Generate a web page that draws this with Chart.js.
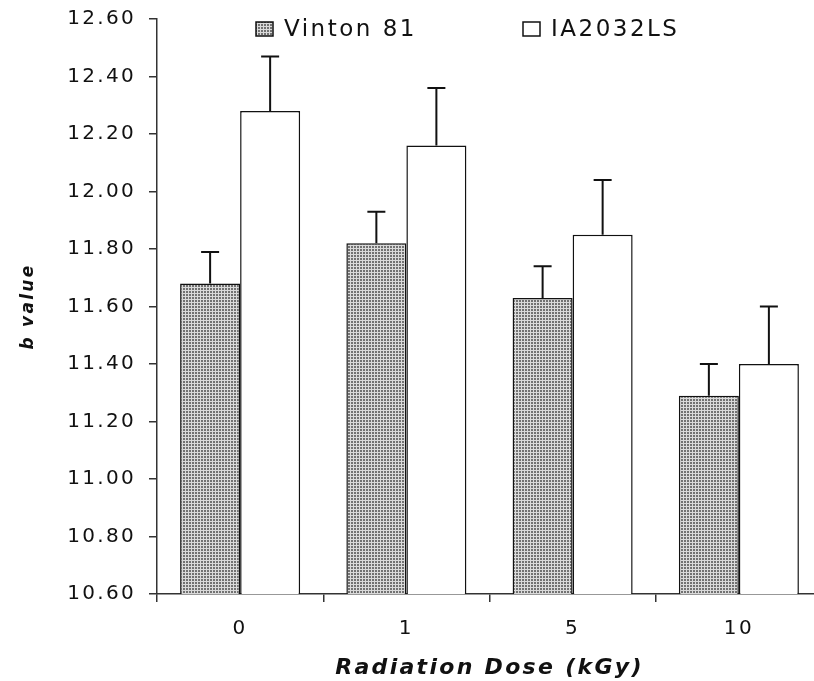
<!DOCTYPE html>
<html>
<head>
<meta charset="utf-8">
<script src="https://cdn.jsdelivr.net/npm/chart.js@4/dist/chart.umd.min.js"></script>
<style>
  html, body { margin: 0; padding: 0; background: #fff; overflow: hidden; }
  #wrap { width: 824px; height: 681px; }
</style>
</head>
<body>
<div id="wrap"><canvas id="chart"></canvas></div>
<script>
// data
const categories = ['0', '1', '5', '10'];
const seriesNames = ['Vinton 81', 'IA2032LS'];
const vinton = [11.68, 11.82, 11.63, 11.29];
const vintonErr = [0.11, 0.11, 0.11, 0.11];
const ia = [12.28, 12.16, 11.85, 11.40];
const iaErr = [0.19, 0.20, 0.19, 0.20];

const ctx = document.getElementById('chart').getContext('2d');

//Dotted gray fill like the scanned bars
function dotPattern() {
    const c = document.createElement('canvas');
    c.width = 3;
    c.height = 3;
    const p = c.getContext('2d');
    p.fillStyle = '#dadada';
    p.fillRect(0, 0, 3, 3);
    p.fillStyle = '#727272';
    p.fillRect(0, 0, 2, 2);
    return ctx.createPattern(c, 'repeat');
}
const grayFill = dotPattern();

//Wide letters, the scan is stretched sideways
const spacing = {
    id: 'spacing',
    beforeLayout(chart) { chart.ctx.letterSpacing = '2.3px'; },
    beforeDraw(chart) { chart.ctx.letterSpacing = '2.3px'; }
};

//Upper error bars only
const errorBars = {
    id: 'errorBars',
    afterDatasetsDraw(chart) {
        const c = chart.ctx;
        const y = chart.scales.y;
        c.save();
        c.strokeStyle = '#111';
        c.lineWidth = 2;
        chart.data.datasets.forEach((ds, i) => {
            const meta = chart.getDatasetMeta(i);
            meta.data.forEach((bar, j) => {
                const top = y.getPixelForValue(ds.data[j] + ds.errors[j]);
                c.beginPath();
                c.moveTo(bar.x, bar.y);
                c.lineTo(bar.x, top);
                c.moveTo(bar.x - 9, top);
                c.lineTo(bar.x + 9, top);
                c.stroke();
            });
        });
        c.restore();
    }
};

//Legend sits inside the plot at the top
const legendInside = {
    id: 'legendInside',
    afterDraw(chart) {
        const c = chart.ctx;
        const xs = [256, 523];
        const yMid = 29;
        c.save();
        c.letterSpacing = '2.5px';
        c.font = '23px "DejaVu Sans"';
        c.textBaseline = 'middle';
        chart.data.datasets.forEach((ds, i) => {
            c.fillStyle = ds.backgroundColor;
            c.fillRect(xs[i], yMid - 7, 17, 14);
            c.strokeStyle = '#111';
            c.lineWidth = 1.5;
            c.strokeRect(xs[i], yMid - 7, 17, 14);
            c.fillStyle = '#111';
            c.fillText(ds.label, xs[i] + 28, yMid + 1);
        });
        c.restore();
    }
};

new Chart(ctx, {
    type: 'bar',
    data: {
        labels: categories,
        datasets: [{
            label: seriesNames[0],
            data: vinton,
            errors: vintonErr,
            backgroundColor: grayFill,
            borderColor: '#111',
            borderWidth: 1.5
        }, {
            label: seriesNames[1],
            data: ia,
            errors: iaErr,
            backgroundColor: '#ffffff',
            borderColor: '#111',
            borderWidth: 1.5
        }]
    },
    options: {
        responsive: true,
        maintainAspectRatio: false,
        animation: false,
        events: [],
        layout: {
            padding: { top: 19, right: 2, left: 0, bottom: 0 }
        },
        datasets: {
            bar: { categoryPercentage: 0.722, barPercentage: 1.0 }
        },
        scales: {
            x: {
                afterFit(scale) { scale.height = 87; },
                grid: {
                    offset: true,
                    drawOnChartArea: false,
                    tickLength: 8,
                    color: '#333',
                    lineWidth: 1.5
                },
                border: { color: '#333', width: 1.5 },
                ticks: {
                    color: '#111',
                    padding: 15,
                    font: { family: 'DejaVu Sans', size: 20 }
                },
                title: {
                    display: true,
                    text: 'Radiation Dose (kGy)',
                    color: '#111',
                    padding: { top: 2, bottom: 0 },
                    font: { family: 'DejaVu Sans', size: 22, weight: 'bold', style: 'italic' }
                }
            },
            y: {
                min: 10.6,
                max: 12.6,
                afterFit(scale) {
                    scale.width = 157;
                    scale.paddingTop = 0;
                    scale.paddingBottom = 0;
                },
                grid: {
                    drawOnChartArea: false,
                    tickLength: 8,
                    color: '#333',
                    lineWidth: 1.5
                },
                border: { color: '#333', width: 1.5 },
                ticks: {
                    stepSize: 0.2,
                    color: '#111',
                    padding: 13,
                    font: { family: 'DejaVu Sans', size: 20 },
                    callback: (v) => v.toFixed(2)
                },
                title: {
                    display: true,
                    text: 'b value',
                    color: '#111',
                    padding: { top: 18, bottom: 0 },
                    font: { family: 'DejaVu Sans', size: 17, weight: 'bold', style: 'italic' }
                }
            }
        },
        plugins: {
            legend: { display: false },
            tooltip: { enabled: false }
        }
    },
    plugins: [spacing, errorBars, legendInside]
});
</script>
</body>
</html>
